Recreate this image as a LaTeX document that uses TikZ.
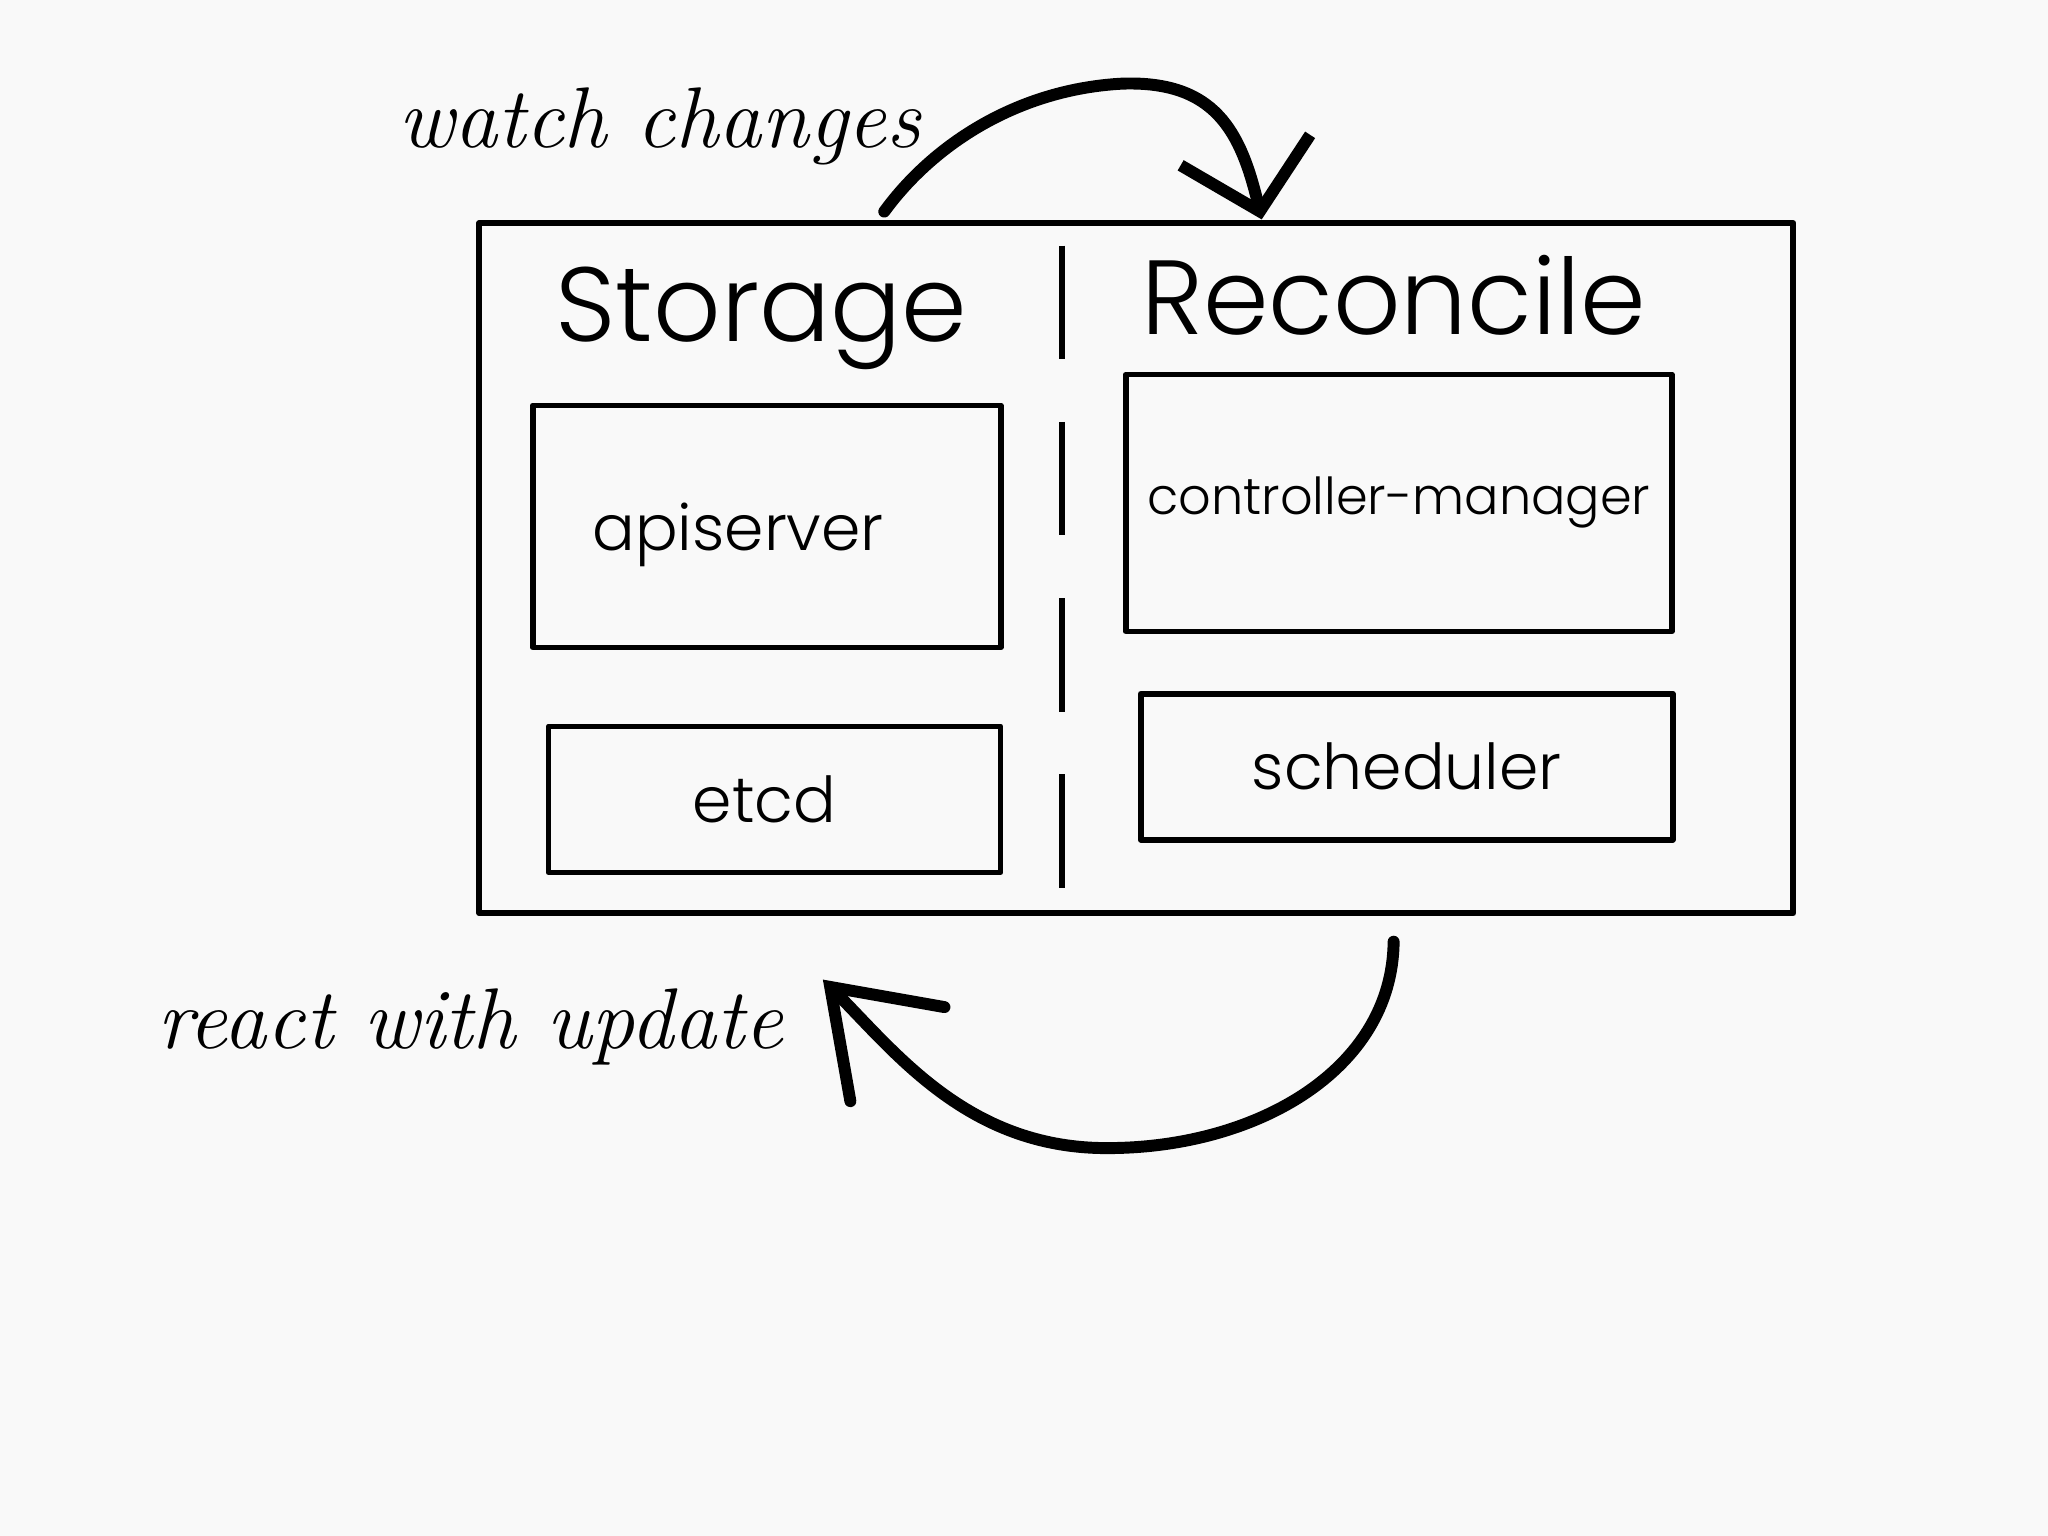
\documentclass[tikz,border=0pt]{standalone}
\usepackage{fontspec}
\setmainfont{Poppins Light}
\newfontfamily\handfont{Latin Modern Roman}
\usepackage{tikz}
\usetikzlibrary{arrows.meta}
\definecolor{paper}{RGB}{249,249,249}

\begin{document}
\begin{tikzpicture}[x=0.01306cm,y=-0.01306cm,line join=round,
    box/.style={draw,line width=1.6pt,minimum width=#1,font=\fontsize{18}{21}\selectfont,text centered},
    title/.style={font=\fontsize{30}{36}\selectfont},
    script/.style={font=\fontsize{24.5}{28}\handfont\itshape},
    loop/.style={line width=3.4pt,line cap=round,-{Straight Barb[length=#1,line cap=round]}}]

    % page
    \fill[paper] (0,0) rectangle (1568,1176);
    \useasboundingbox (0,0) rectangle (1568,1176);

    \node[draw,line width=1.7pt,minimum width=13.14cm,minimum height=6.9cm] (frame) at (870,435) {};

    \node[title] (storage) at (583,244) {Storage};
    \node[title] (reconcile) at (1067,226) {Reconcile};
    \draw[line width=1.8pt,dash pattern=on 1.136cm off 0.627cm] (813,188) -- (813,680);

    \node[box=4.68cm,minimum height=2.42cm,text depth=0pt] (api) at (587,403) {apiserver\hspace*{0.57cm}};
    \node[box=4.52cm,minimum height=1.46cm] (etcd) at (593,612) {etcd\hspace*{0.2cm}};
    \node[box=5.46cm,minimum height=2.57cm,font=\fontsize{14.5}{17}\selectfont] (cm) at (1071,385) {controller-manager};
    \node[box=5.32cm,minimum height=1.46cm] (sched) at (1077,587) {scheduler};

    \node[script] (watch) at (505,97) {watch changes};
    \node[script] (react) at (360,786) {react with update};

    \coordinate (w0) at (677,162);
    \coordinate (w1) at (966,168);
    \coordinate (r0) at (1067,721);
    \coordinate (r1) at (630,750);

    \draw[loop=0.63cm,{Straight Barb[length=0.63cm,width=1.33cm]}-] (w1) .. controls (950,100) and (930,62) .. (860,64) .. controls (780,68) and (715,110) .. (w0);
    \draw[loop=1.03cm,-{Straight Barb[length=0.95cm,width=1.33cm,line cap=round]}] (r0) .. controls (1066,820) and (960,880) .. (845,879)
        .. controls (740,878) and (685,805) .. (r1);
\end{tikzpicture}
\end{document}
